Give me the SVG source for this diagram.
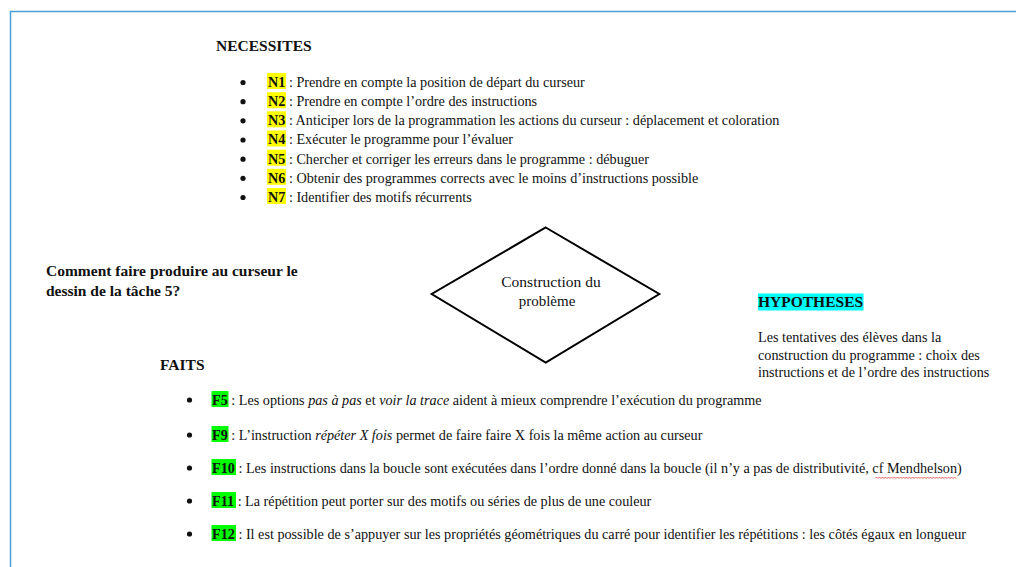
<svg xmlns="http://www.w3.org/2000/svg" width="1016" height="567" viewBox="0 0 1016 567">
  <style>
    .t { font-family: "Liberation Serif", "Times New Roman", serif; font-size: 14.2px; fill: #111; }
    .b { font-weight: bold; }
    .h { font-family: "Liberation Serif", "Times New Roman", serif; font-size: 15.5px; font-weight: bold; fill: #111; }
    .i { font-style: italic; }
    .hy { fill: #ffff00; }
    .hg { fill: #00ff00; }
    .hc { fill: #00ffff; }
    .dot { fill: #111; }
    .frame { fill: none; stroke: #4a9fd6; stroke-width: 1.5; }
    .shape { fill: #fff; stroke: #000; stroke-width: 2; }
  </style>
  <rect width="1016" height="567" fill="#fff"/>
  <path class="frame" d="M10.5,567 V11.5 H1016"/>

  <g id="necessites">
    <text class="h" x="216" y="51">NECESSITES</text>
    <g id="n1">
      <circle class="dot" cx="243" cy="82.5" r="2.6"/>
      <rect class="hy" x="267" y="73" width="19" height="16"/>
      <text class="t" x="268" y="86.8"><tspan class="b">N1</tspan> : Prendre en compte la position de départ du curseur</text>
    </g>
    <g id="n2">
      <circle class="dot" cx="243" cy="101.7" r="2.6"/>
      <rect class="hy" x="267" y="92.2" width="19" height="16"/>
      <text class="t" x="268" y="106"><tspan class="b">N2</tspan> : Prendre en compte l’ordre des instructions</text>
    </g>
    <g id="n3">
      <circle class="dot" cx="243" cy="120.8" r="2.6"/>
      <rect class="hy" x="267" y="111.3" width="19" height="16"/>
      <text class="t" x="268" y="125.1"><tspan class="b">N3</tspan> : Anticiper lors de la programmation les actions du curseur : déplacement et coloration</text>
    </g>
    <g id="n4">
      <circle class="dot" cx="243" cy="140" r="2.6"/>
      <rect class="hy" x="267" y="130.5" width="19" height="16"/>
      <text class="t" x="268" y="144.3"><tspan class="b">N4</tspan> : Exécuter le programme pour l’évaluer</text>
    </g>
    <g id="n5">
      <circle class="dot" cx="243" cy="159.2" r="2.6"/>
      <rect class="hy" x="267" y="149.7" width="19" height="16"/>
      <text class="t" x="268" y="163.5"><tspan class="b">N5</tspan> : Chercher et corriger les erreurs dans le programme : débuguer</text>
    </g>
    <g id="n6">
      <circle class="dot" cx="243" cy="178.3" r="2.6"/>
      <rect class="hy" x="267" y="168.8" width="19" height="16"/>
      <text class="t" x="268" y="182.6"><tspan class="b">N6</tspan> : Obtenir des programmes corrects avec le moins d’instructions possible</text>
    </g>
    <g id="n7">
      <circle class="dot" cx="243" cy="197.5" r="2.6"/>
      <rect class="hy" x="267" y="188" width="19" height="16"/>
      <text class="t" x="268" y="201.8"><tspan class="b">N7</tspan> : Identifier des motifs récurrents</text>
    </g>
  </g>

  <g id="question">
    <text class="h" x="46" y="275.5">Comment faire produire au curseur le</text>
    <text class="h" x="46" y="295.5">dessin de la tâche 5?</text>
  </g>

  <g id="probleme">
    <polygon class="shape" points="545.7,227.5 659.3,294 545.7,362.5 431.7,294"/>
    <text class="t" x="551" y="287" text-anchor="middle" style="font-size:15.5px">Construction du</text>
    <text class="t" x="547" y="306" text-anchor="middle" style="font-size:15px">problème</text>
  </g>

  <g id="hypotheses">
    <rect class="hc" x="758" y="293.5" width="105.5" height="17"/>
    <text class="h" x="758" y="307">HYPOTHESES</text>
    <text class="t" x="758" y="341.5">Les tentatives des élèves dans la</text>
    <text class="t" x="758" y="360">construction du programme : choix des</text>
    <text class="t" x="758" y="377">instructions et de l’ordre des instructions</text>
  </g>

  <g id="faits">
    <text class="h" x="160" y="370">FAITS</text>
    <g id="f5">
      <circle class="dot" cx="189.5" cy="400" r="2.6"/>
      <rect class="hg" x="211.5" y="391" width="17" height="16"/>
      <text class="t" x="212" y="404.5"><tspan class="b">F5</tspan> : Les options <tspan class="i">pas à pas</tspan> et <tspan class="i">voir la trace</tspan> aident à mieux comprendre l’exécution du programme</text>
    </g>
    <g id="f9">
      <circle class="dot" cx="189.5" cy="435" r="2.6"/>
      <rect class="hg" x="211.5" y="426" width="17" height="16"/>
      <text class="t" x="212" y="439.5"><tspan class="b">F9</tspan> : L’instruction <tspan class="i">répéter X fois</tspan> permet de faire faire X fois la même action au curseur</text>
    </g>
    <g id="f10">
      <circle class="dot" cx="189.5" cy="468" r="2.6"/>
      <rect class="hg" x="211.5" y="459" width="24.5" height="16"/>
      <text class="t" x="212" y="472.5"><tspan class="b">F10</tspan> : Les instructions dans la boucle sont exécutées dans l’ordre donné dans la boucle (il n’y a pas de distributivité, cf Mendhelson)</text>
      <path d="M875,478.5 l1.5,-1.5 l1.5,1.5 l1.5,-1.5 l1.5,1.5 l1.5,-1.5 l1.5,1.5 l1.5,-1.5 l1.5,1.5 l1.5,-1.5 l1.5,1.5 l1.5,-1.5 l1.5,1.5 l1.5,-1.5 l1.5,1.5 l1.5,-1.5 l1.5,1.5 l1.5,-1.5 l1.5,1.5 l1.5,-1.5 l1.5,1.5 l1.5,-1.5 l1.5,1.5 l1.5,-1.5 l1.5,1.5 l1.5,-1.5 l1.5,1.5 l1.5,-1.5 l1.5,1.5 l1.5,-1.5 l1.5,1.5 l1.5,-1.5 l1.5,1.5 l1.5,-1.5 l1.5,1.5 l1.5,-1.5 l1.5,1.5 l1.5,-1.5 l1.5,1.5 l1.5,-1.5 l1.5,1.5 l1.5,-1.5 l1.5,1.5 l1.5,-1.5 l1.5,1.5 l1.5,-1.5 l1.5,1.5 l1.5,-1.5 l1.5,1.5 l1.5,-1.5 l1.5,1.5 l1.5,-1.5 l1.5,1.5 l1.5,-1.5 l1.5,1.5" fill="none" stroke="#e04040" stroke-width="0.8"/>
    </g>
    <g id="f11">
      <circle class="dot" cx="189.5" cy="501" r="2.6"/>
      <rect class="hg" x="211.5" y="492" width="24.5" height="16"/>
      <text class="t" x="212" y="505.5"><tspan class="b">F11</tspan> : La répétition peut porter sur des motifs ou séries de plus de une couleur</text>
    </g>
    <g id="f12">
      <circle class="dot" cx="189.5" cy="534" r="2.6"/>
      <rect class="hg" x="211.5" y="525" width="24.5" height="16"/>
      <text class="t" x="212" y="538.5"><tspan class="b">F12</tspan> : Il est possible de s’appuyer sur les propriétés géométriques du carré pour identifier les répétitions : les côtés égaux en longueur</text>
    </g>
  </g>

  <g id="connectors"></g>
</svg>
